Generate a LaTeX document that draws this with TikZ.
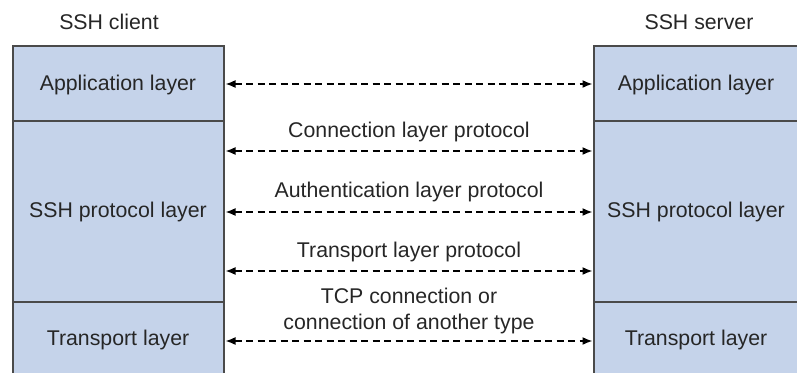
\documentclass[tikz,border=0pt]{standalone}
\usepackage{fontspec}
\setmainfont{Liberation Sans}
\usetikzlibrary{arrows.meta}
\definecolor{layerfill}{HTML}{C5D3EA}
\definecolor{layerline}{HTML}{4A4A4A}
\definecolor{ink}{HTML}{262626}
\begin{document}
\begin{tikzpicture}[x=1pt,y=-1pt,
  every node/.style={text=ink,font=\fontsize{21.3}{26}\selectfont,inner sep=0pt},
  layerbox/.style={fill=layerfill},
  layeredge/.style={draw=layerline,line width=2pt},
  msg/.style={draw=black,line width=1.6pt,dash pattern=on 7pt off 4.5pt,
    {Latex[length=10pt,width=8pt]}-{Latex[length=10pt,width=8pt]}},
  msglabel/.style={align=center}]
\useasboundingbox (0,0) rectangle (797,372);

% client stack
\fill[layerbox] (13,46) rectangle (224,373);
\draw[layeredge] (13,374) -- (13,46) -- (224,46) -- (224,374);
\draw[layeredge] (13,121) -- (224,121);
\draw[layeredge] (13,302) -- (224,302);

% server stack
\fill[layerbox] (594,46) rectangle (798,373);
\draw[layeredge] (798,46) -- (594,46) -- (594,374);
\draw[layeredge] (594,121) -- (798,121);
\draw[layeredge] (594,302) -- (798,302);

% titles
\node (client) at (109,22) {SSH client};
\node (server) at (699,22) {SSH server};

% layer names
\node (capp) at (118,85) {Application layer};
\node (cssh) at (118,212) {SSH protocol layer};
\node (ctrn) at (118,340) {Transport layer};
\node (sapp) at (696,85) {Application layer};
\node (sssh) at (696,212) {SSH protocol layer};
\node (strn) at (696,340) {Transport layer};

% arrow end points on the facing edges of the stacks
\coordinate (l1) at (225.5,84);  \coordinate (r1) at (592.5,84);
\coordinate (l2) at (225.5,151); \coordinate (r2) at (592.5,151);
\coordinate (l3) at (225.5,212); \coordinate (r3) at (592.5,212);
\coordinate (l4) at (225.5,271); \coordinate (r4) at (592.5,271);
\coordinate (l5) at (225.5,341); \coordinate (r5) at (592.5,341);

% peer exchanges
\draw[msg] (l1) -- (r1);
\draw[msg] (l2) -- (r2);
\draw[msg] (l3) -- (r3);
\draw[msg] (l4) -- (r4);
\draw[msg] (l5) -- (r5);

\node[msglabel] (conn) at (409,132) {Connection layer protocol};
\node[msglabel] (auth) at (409,192) {Authentication layer protocol};
\node[msglabel] (tran) at (409,252) {Transport layer protocol};
\node[msglabel] (tcp) at (409,310.5) {TCP connection or\\connection of another type};
\end{tikzpicture}
\end{document}
